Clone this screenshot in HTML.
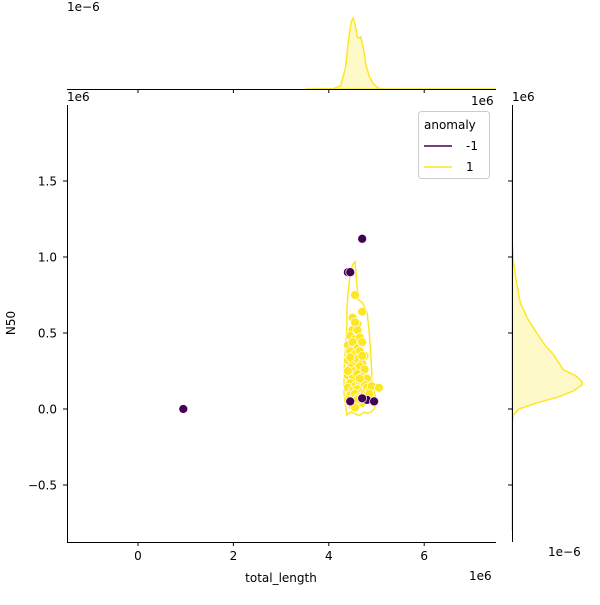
<!DOCTYPE html>
<html><head><meta charset="utf-8"><style>
body{margin:0;background:#fff}
svg text{font-family:"DejaVu Sans","Liberation Sans",sans-serif;font-size:12px;fill:#000}
</style></head><body>
<svg id="c" width="600" height="600" xmlns="http://www.w3.org/2000/svg"></svg>
<script>
const normX=[0.95,4.7,4.4,4.45,4.45,4.8,4.95,4.7];
const normY=[0.0,1.12,0.9,0.9,0.05,0.06,0.05,0.07];
const normX1=[4.55,4.6,4.5,4.7,4.5,4.6,4.45,4.55,4.65,4.4,4.5,4.6,4.7,4.45,4.55,4.65,4.75,4.4,4.5,4.6,4.7,4.45,4.55,4.65,4.75,4.4,4.5,4.6,4.7,4.8,4.45,4.55,4.65,4.75,4.4,4.5,4.6,4.7,4.8,4.45,4.55,4.65,4.75,4.85,4.4,4.5,4.6,4.7,4.8,4.9,4.45,4.55,4.65,5.05,4.5,4.6,4.85,4.7,4.55,4.4];
const normY1=[0.75,0.56,0.6,0.64,0.52,0.52,0.48,0.46,0.47,0.42,0.44,0.4,0.44,0.38,0.36,0.38,0.35,0.32,0.3,0.33,0.3,0.27,0.25,0.28,0.26,0.22,0.2,0.23,0.21,0.2,0.17,0.15,0.18,0.16,0.14,0.12,0.13,0.11,0.14,0.09,0.1,0.08,0.1,0.12,0.06,0.05,0.07,0.04,0.09,0.15,0.34,0.57,0.2,0.14,0.02,0.06,0.1,0.35,0.01,0.25];
const contX=[4.4,4.45,4.5,4.55,4.58,4.62,4.7,4.75,4.8,4.85,4.88,4.9,4.9,4.95,5.0,4.95,4.88,4.8,4.75,4.7,4.65,4.6,4.55,4.45,4.38,4.32,4.32,4.35,4.38,4.38,4.4];
const contY=[0.75,0.9,0.95,0.97,0.85,0.72,0.7,0.67,0.64,0.5,0.35,0.25,0.15,0.12,0.05,0.0,-0.02,-0.03,-0.02,-0.03,-0.04,-0.04,-0.03,-0.02,-0.04,0.1,0.25,0.4,0.55,0.65,0.75];
const topX=[3.5,4.1,4.25,4.35,4.42,4.47,4.51,4.55,4.6,4.64,4.67,4.72,4.78,4.85,4.92,5.0,5.07,5.2,7.5];
const topD=[0,0.01,0.08,0.55,1.3,1.7,1.8,1.65,1.3,1.29,1.32,1.05,0.6,0.32,0.15,0.06,0.01,0,0];
const rightY=[-0.8,-0.1,-0.04,0.0,0.04,0.08,0.12,0.16,0.18,0.22,0.26,0.3,0.36,0.42,0.5,0.6,0.7,0.85,0.97,1.1,1.9];
const rightD=[0,0,0.05,0.25,0.9,1.7,2.25,2.55,2.55,2.3,1.85,1.72,1.5,1.2,0.9,0.55,0.3,0.15,0.05,0.01,0];
const xTicks=[0,2,4,6], yTicks=[-0.5,0,0.5,1.0,1.5];
const yTickLabels=["−0.5","0.0","0.5","1.0","1.5"];
const X=v=>138+v*47.7, Y=v=>409-v*152;
const TY=d=>89-d*39.5, RX=d=>512+d*27.5;
const s=document.getElementById('c'), NS="http://www.w3.org/2000/svg";
function el(t,a,txt){const e=document.createElementNS(NS,t);for(const k in a)e.setAttribute(k,a[k]);if(txt!==undefined)e.textContent=txt;s.appendChild(e);return e;}
let d=contX.map((x,i)=>(i?'L':'M')+X(x)+','+Y(contY[i])).join(' ')+'Z';
let e=el('path',{d,fill:'none',stroke:'#fde725','stroke-width':1.5});

normX1.forEach((x,i)=>{const c=el('circle',{cx:X(x),cy:Y(normY1[i]),r:4.5,fill:'#fde725',stroke:'#fff','stroke-width':0.7});
});
normX.forEach((x,i)=>{const c=el('circle',{cx:X(x),cy:Y(normY[i]),r:4.5,fill:'#440154',stroke:'#fff','stroke-width':0.7});
});
d='M'+X(topX[0])+','+TY(0)+' '+topX.map((x,i)=>'L'+X(x)+','+TY(topD[i])).join(' ')+' L'+X(topX[topX.length-1])+','+TY(0)+'Z';
e=el('path',{d,fill:'#fde725','fill-opacity':0.25,stroke:'#fde725','stroke-width':1.5});

d='M'+RX(0)+','+Y(rightY[0])+' '+rightY.map((y,i)=>'L'+RX(rightD[i])+','+Y(y)).join(' ')+'Z';
e=el('path',{d,fill:'#fde725','fill-opacity':0.25,stroke:'#fde725','stroke-width':1.5});

el('line',{x1:67,y1:89.5,x2:496,y2:89.5,stroke:'#000'});
el('line',{x1:67.5,y1:105,x2:67.5,y2:542,stroke:'#000'});
el('line',{x1:67,y1:542.5,x2:496,y2:542.5,stroke:'#000'});
el('line',{x1:512.5,y1:105,x2:512.5,y2:542,stroke:'#000'});
xTicks.forEach(t=>{el('line',{x1:X(t),y1:542,x2:X(t),y2:546,stroke:'#000'});
el('line',{x1:X(t),y1:89,x2:X(t),y2:93,stroke:'#000'});
const l=el('text',{x:X(t),y:560,'text-anchor':'middle'},t);});
yTicks.forEach((t,i)=>{el('line',{x1:63,y1:Y(t),x2:67,y2:Y(t),stroke:'#000'});
el('line',{x1:508,y1:Y(t),x2:512,y2:Y(t),stroke:'#000'});
const l=el('text',{x:57,y:Y(t)+4.5,'text-anchor':'end'},yTickLabels[i]);});
el('text',{x:67,y:11},'1e−6');
el('text',{x:67,y:101},'1e6');
el('text',{x:471,y:105},'1e6');
el('text',{x:512,y:101},'1e6');
el('text',{x:548,y:556},'1e−6');
el('text',{x:469,y:580},'1e6');
e=el('text',{x:281,y:582,'text-anchor':'middle'},'total_length');
e=el('text',{x:15,y:323,'text-anchor':'middle',transform:'rotate(-90 15 323)'},'N50');
e=el('rect',{x:418.5,y:111.5,width:71,height:67,rx:3,fill:'#fff',stroke:'#ccc'});
el('text',{x:424,y:129},'anomaly');
el('line',{x1:424,y1:146,x2:452,y2:146,stroke:'#440154','stroke-width':1.5});
e=el('text',{x:466,y:150},'-1');
el('line',{x1:424,y1:167,x2:452,y2:167,stroke:'#fde725','stroke-width':1.5});
e=el('text',{x:466,y:171},'1');
</script>
</body></html>
